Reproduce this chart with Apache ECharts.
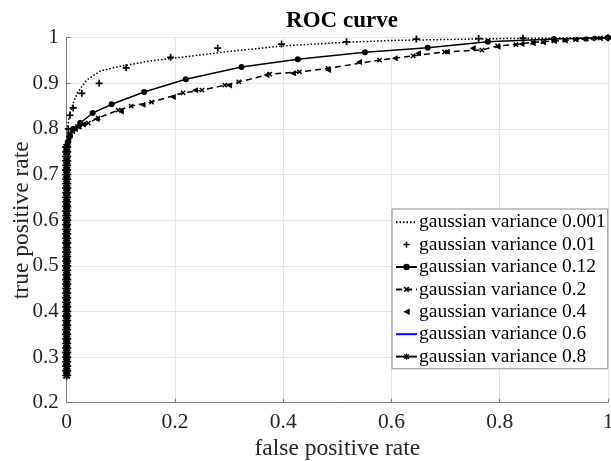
<!DOCTYPE html>
<html><head><meta charset="utf-8">
<script src="https://cdn.jsdelivr.net/npm/echarts@6/dist/echarts.min.js"></script>
<style>html,body{margin:0;padding:0;background:#fff}#c{width:611px;height:461px}</style>
</head><body><div id="c"></div>
<script>
const seriesNames = ['gaussian variance 0.001','gaussian variance 0.01','gaussian variance 0.12','gaussian variance 0.2','gaussian variance 0.4','gaussian variance 0.6','gaussian variance 0.8'];
const xTicks = [0, 0.2, 0.4, 0.6, 0.8, 1];
const yTicks = [0.2, 0.3, 0.4, 0.5, 0.6, 0.7, 0.8, 0.9, 1];

const fpr001 = [0, 0, 0.001, 0.005, 0.012, 0.02, 0.037, 0.062, 0.093, 0.154, 0.246, 0.3, 0.4, 0.5, 0.6, 0.7, 0.8, 0.9, 1];
const tpr001 = [0.26, 0.76, 0.80, 0.83, 0.857, 0.88, 0.907, 0.927, 0.936, 0.949, 0.962, 0.970, 0.982, 0.989, 0.994, 0.996, 0.998, 0.999, 1];

const fpr01 = [0, 0.003, 0.006, 0.012, 0.028, 0.06, 0.11, 0.192, 0.279, 0.397, 0.517, 0.646, 0.761, 0.843, 1];
const tpr01 = [0.76, 0.80, 0.83, 0.846, 0.878, 0.90, 0.934, 0.957, 0.977, 0.986, 0.991, 0.997, 0.998, 0.999, 1];

const fpr12 = [0, 0.002, 0.006, 0.012, 0.025, 0.048, 0.083, 0.143, 0.22, 0.323, 0.427, 0.551, 0.667, 0.778, 0.9, 1];
const tpr12 = [0.76, 0.77, 0.785, 0.80, 0.813, 0.835, 0.854, 0.881, 0.909, 0.936, 0.953, 0.968, 0.978, 0.991, 0.997, 1];

const fpr2 = [0, 0.001, 0.003, 0.006, 0.01, 0.015, 0.02, 0.03, 0.04, 0.058, 0.095, 0.119, 0.157, 0.215, 0.25, 0.292, 0.318, 0.375, 0.43, 0.483, 0.578, 0.64, 0.698, 0.767, 0.796, 0.83, 0.861, 0.88, 0.9, 0.92, 0.94, 0.96, 0.98, 1];
const tpr2 = [0.76, 0.77, 0.78, 0.79, 0.797, 0.802, 0.805, 0.81, 0.813, 0.824, 0.841, 0.85, 0.859, 0.879, 0.885, 0.896, 0.903, 0.92, 0.925, 0.933, 0.951, 0.96, 0.969, 0.973, 0.982, 0.985, 0.99, 0.991, 0.993, 0.994, 0.996, 0.997, 0.999, 1];

const fpr4 = [0.001, 0.003, 0.005, 0.01, 0.015, 0.022, 0.03, 0.055, 0.1, 0.14, 0.196, 0.237, 0.3, 0.369, 0.418, 0.483, 0.54, 0.606, 0.649, 0.702, 0.75, 0.796, 0.84, 0.861, 0.88, 0.9, 0.92, 0.94, 0.955, 0.97, 0.985, 0.995];
const tpr4 = [0.765, 0.775, 0.785, 0.795, 0.80, 0.805, 0.81, 0.822, 0.838, 0.853, 0.87, 0.885, 0.895, 0.918, 0.922, 0.929, 0.947, 0.955, 0.966, 0.969, 0.977, 0.98, 0.986, 0.988, 0.99, 0.993, 0.994, 0.996, 0.997, 0.998, 0.999, 1];

const fpr6 = [0, 0];
const tpr6 = [0.26, 0.76];

const fpr8 = [0,0,0,0,0,0,0,0,0,0,0,0,0,0,0,0,0,0,0,0,0,0,0,0,0,0,0,0,0,0,0,0,0,0,0,0,0,0,0,0,0,0,0,0,0,0,0,0,0,0,0];
const tpr8 = [0.26,0.27,0.28,0.29,0.30,0.31,0.32,0.33,0.34,0.35,0.36,0.37,0.38,0.39,0.40,0.41,0.42,0.43,0.44,0.45,0.46,0.47,0.48,0.49,0.50,
  0.51,0.52,0.53,0.54,0.55,0.56,0.57,0.58,0.59,0.60,0.61,0.62,0.63,0.64,0.65,0.66,0.67,0.68,0.69,0.70,0.71,0.72,0.73,0.74,0.75,0.76];

function pairs(xs, ys){ return xs.map((x,i)=>[x, ys[i]]); }

const PLUS = 'path://M-1.2,-5 L1.2,-5 L1.2,5 L-1.2,5 Z M-5,-1.2 L5,-1.2 L5,1.2 L-5,1.2 Z';
const STAR = 'path://M-1,-5 L1,-5 L1,5 L-1,5 Z M-5,-1 L5,-1 L5,1 L-5,1 Z M4.25,2.83 L2.83,4.25 L-4.25,-2.83 L-2.83,-4.25 Z M2.83,-4.25 L4.25,-2.83 L-2.83,4.25 L-4.25,2.83 Z';
const FONT = 'Liberation Serif';
const TXT = '#262626';

const chart = echarts.init(document.getElementById('c'), null, {renderer:'canvas'});
chart.setOption({
  animation: false,
  backgroundColor: '#fff',
  title: {
    text: 'ROC curve', left: 337, top: 5, textAlign: 'center',
    textStyle: {fontFamily: FONT, fontWeight: 'bold', fontSize: 23, color: '#000'}
  },
  grid: {left: 66.7, right: 3, top: 37.7, bottom: 58.3, containLabel: false, outerBoundsMode: 'none'},
  xAxis: {
    type: 'value', min: 0, max: 1, interval: 0.2,
    name: 'false positive rate', nameLocation: 'middle', nameGap: 34, nameMoveOverlap: false,
    nameTextStyle: {fontFamily: FONT, fontSize: 23.5, color: TXT},
    axisLine: {show: true, lineStyle: {color: '#808080', width: 1}},
    axisTick: {show: true, inside: true, length: 4, lineStyle: {color: '#808080'}},
    axisLabel: {fontFamily: FONT, fontSize: 21.5, color: TXT, margin: 9,
      formatter: v => { const t = xTicks.find(k => Math.abs(k - v) < 1e-9); return t === undefined ? '' : String(t); }},
    splitLine: {show: true, lineStyle: {color: '#e6e6e6', width: 1}}
  },
  yAxis: {
    type: 'value', min: 0.2, max: 1, interval: 0.1,
    name: 'true positive rate', nameLocation: 'middle', nameGap: 33, nameMoveOverlap: false,
    nameTextStyle: {fontFamily: FONT, fontSize: 23.5, color: TXT},
    axisLine: {show: true, lineStyle: {color: '#808080', width: 1}},
    axisTick: {show: true, inside: true, length: 4, lineStyle: {color: '#808080'}},
    axisLabel: {fontFamily: FONT, fontSize: 21, color: TXT, margin: 8,
      formatter: v => { const t = yTicks.find(k => Math.abs(k - v) < 1e-9); return t === undefined ? '' : String(t); }},
    splitLine: {show: true, lineStyle: {color: '#e6e6e6', width: 1}}
  },
  legend: {
    orient: 'vertical', left: 392, top: 209,
    backgroundColor: '#fff', borderColor: '#8c8c8c', borderWidth: 1,
    padding: [2, 2, 1, 3], itemGap: 0, itemWidth: 21, itemHeight: 8,
    textStyle: {fontFamily: FONT, fontSize: 19.5, color: '#000', lineHeight: 22.4, padding: [0,0,0,-3]},
    data: [
      {name: seriesNames[0], itemStyle: {opacity: 0}},
      {name: seriesNames[1]},
      {name: seriesNames[2]},
      {name: seriesNames[3]},
      {name: seriesNames[4]},
      {name: seriesNames[5], itemStyle: {opacity: 0}},
      {name: seriesNames[6]}
    ]
  },
  series: [
    {name: seriesNames[5], type: 'line', data: pairs(fpr6, tpr6), symbol: 'none',
      lineStyle: {color: '#0000ff', width: 1.5}, itemStyle: {color: '#0000ff'}, z: 1},
    {name: seriesNames[0], type: 'line', data: pairs(fpr001, tpr001), symbol: 'none',
      lineStyle: {color: '#000', width: 1.5, type: [1.5, 2]}, itemStyle: {color: '#000'}, z: 2},
    {name: seriesNames[1], type: 'line', data: pairs(fpr01, tpr01), symbol: PLUS, symbolSize: 7,
      lineStyle: {width: 0, opacity: 0}, itemStyle: {color: '#000'}, z: 3},
    {name: seriesNames[2], type: 'line', data: pairs(fpr12, tpr12), symbol: 'circle', symbolSize: 6,
      lineStyle: {color: '#000', width: 1.5}, itemStyle: {color: '#000'}, z: 4},
    {name: seriesNames[3], type: 'line', data: pairs(fpr2, tpr2), symbol: PLUS, symbolRotate: 45, symbolSize: 6,
      lineStyle: {color: '#000', width: 1.5, type: [6, 4]}, itemStyle: {color: '#000'}, z: 5},
    {name: seriesNames[4], type: 'line', data: pairs(fpr4, tpr4), symbol: 'triangle', symbolRotate: 90, symbolSize: 6,
      lineStyle: {width: 0, opacity: 0}, itemStyle: {color: '#000'}, z: 6},
    {name: seriesNames[6], type: 'line', data: pairs(fpr8, tpr8), symbol: STAR, symbolSize: 9,
      lineStyle: {color: '#000', width: 1.5}, itemStyle: {color: '#000'}, z: 7}
  ]
});
</script></body></html>
